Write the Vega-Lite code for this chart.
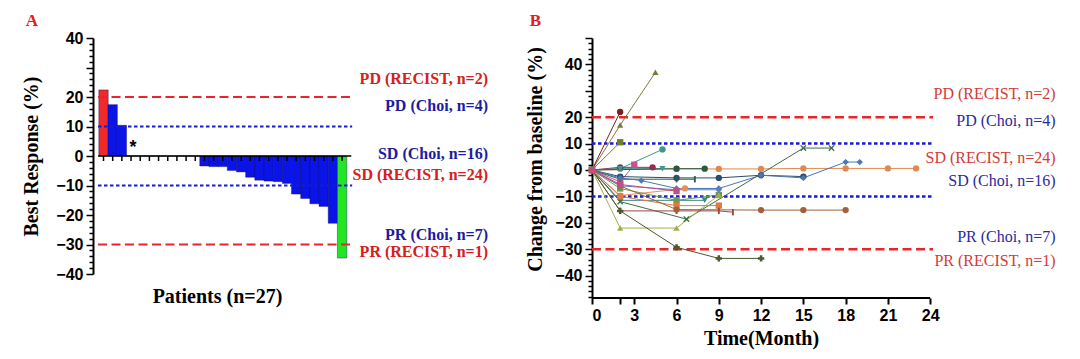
{
  "$schema": "https://vega.github.io/schema/vega-lite/v6.json",
  "background": "white",
  "padding": {"left": 21, "top": 12, "right": 5, "bottom": 5},
  "spacing": 32,
  "config": {
    "view": {"stroke": null},
    "axis": {
      "grid": false,
      "domainColor": "black", "domainWidth": 2,
      "tickColor": "black", "tickWidth": 1.5,
      "labelColor": "black", "labelFont": "Liberation Sans", "labelFontWeight": "bold", "labelFontSize": 16,
      "titleColor": "black", "titleFont": "Liberation Serif", "titleFontWeight": "bold", "titleFontSize": 20
    }
  },
  "datasets": {
    "wf": [
      {"pt": 1, "v": 22.4, "g": "RECIST_PD"},
      {"pt": 2, "v": 17.4, "g": "Choi"},
      {"pt": 3, "v": 10.4, "g": "Choi"},
      {"pt": 4, "v": 0, "g": "Choi"},
      {"pt": 5, "v": 0, "g": "Choi"},
      {"pt": 6, "v": 0, "g": "Choi"},
      {"pt": 7, "v": 0, "g": "Choi"},
      {"pt": 8, "v": 0, "g": "Choi"},
      {"pt": 9, "v": 0, "g": "Choi"},
      {"pt": 10, "v": 0, "g": "Choi"},
      {"pt": 11, "v": 0, "g": "Choi"},
      {"pt": 12, "v": -3.4, "g": "Choi"},
      {"pt": 13, "v": -3.6, "g": "Choi"},
      {"pt": 14, "v": -3.6, "g": "Choi"},
      {"pt": 15, "v": -4.9, "g": "Choi"},
      {"pt": 16, "v": -5.4, "g": "Choi"},
      {"pt": 17, "v": -7.2, "g": "Choi"},
      {"pt": 18, "v": -8.2, "g": "Choi"},
      {"pt": 19, "v": -8.5, "g": "Choi"},
      {"pt": 20, "v": -8.7, "g": "Choi"},
      {"pt": 21, "v": -9.3, "g": "Choi"},
      {"pt": 22, "v": -12.9, "g": "Choi"},
      {"pt": 23, "v": -14.4, "g": "Choi"},
      {"pt": 24, "v": -16.2, "g": "Choi"},
      {"pt": 25, "v": -17.1, "g": "Choi"},
      {"pt": 26, "v": -22.8, "g": "Choi"},
      {"pt": 27, "v": -34.6, "g": "RECIST_PR"}
    ],
    "refs": [
      {"v": 20, "type": "RECIST"},
      {"v": -30, "type": "RECIST"},
      {"v": 10, "type": "Choi"},
      {"v": -10, "type": "Choi"}
    ],
    "labA": [
      {"t": "PD (RECIST, n=2)", "v": 26.2, "type": "RECIST"},
      {"t": "PD (Choi, n=4)", "v": 17, "type": "Choi"},
      {"t": "SD (Choi, n=16)", "v": 0.6, "type": "Choi"},
      {"t": "SD (RECIST, n=24)", "v": -6.5, "type": "RECIST"},
      {"t": "PR (Choi, n=7)", "v": -26.9, "type": "Choi"},
      {"t": "PR (RECIST, n=1)", "v": -32.7, "type": "RECIST"}
    ],
    "labB": [
      {"t": "PD (RECIST, n=2)", "v": 28.8, "type": "RECIST"},
      {"t": "PD (Choi, n=4)", "v": 18.7, "type": "Choi"},
      {"t": "SD (RECIST, n=24)", "v": 4.5, "type": "RECIST"},
      {"t": "SD (Choi, n=16)", "v": -4.1, "type": "Choi"},
      {"t": "PR (Choi, n=7)", "v": -25.5, "type": "Choi"},
      {"t": "PR (RECIST, n=1)", "v": -34.4, "type": "RECIST"}
    ],
    "star": [{"pt": 4, "v": 2.6, "s": "*"}],
    "traj": [
      {"p": "p01", "m": 0, "v": 0}, {"p": "p01", "m": 2, "v": 17}, {"p": "p01", "m": 4.5, "v": 37},
      {"p": "p02", "m": 0, "v": 0}, {"p": "p02", "m": 2, "v": 22},
      {"p": "p03", "m": 0, "v": 0}, {"p": "p03", "m": 2, "v": 10.5},
      {"p": "p04", "m": 0, "v": 0}, {"p": "p04", "m": 2, "v": 0.5}, {"p": "p04", "m": 5, "v": 7.8},
      {"p": "p05", "m": 0, "v": 0}, {"p": "p05", "m": 2, "v": -4.5}, {"p": "p05", "m": 3, "v": 2},
      {"p": "p06", "m": 0, "v": 0}, {"p": "p06", "m": 2, "v": 1}, {"p": "p06", "m": 4.3, "v": 1},
      {"p": "p07", "m": 0, "v": 0}, {"p": "p07", "m": 2, "v": 0.5}, {"p": "p07", "m": 5, "v": 0.5},
      {"p": "p08", "m": 0, "v": 0}, {"p": "p08", "m": 6, "v": 0.4}, {"p": "p08", "m": 9, "v": 0.4}, {"p": "p08", "m": 12, "v": 0.4}, {"p": "p08", "m": 15, "v": 0.6}, {"p": "p08", "m": 18, "v": 0.6}, {"p": "p08", "m": 21, "v": 0.6}, {"p": "p08", "m": 23, "v": 0.6},
      {"p": "p09", "m": 0, "v": 0}, {"p": "p09", "m": 6, "v": 0.5}, {"p": "p09", "m": 8, "v": 0.5},
      {"p": "p10", "m": 0, "v": 0}, {"p": "p10", "m": 2, "v": -2.5}, {"p": "p10", "m": 6, "v": -3}, {"p": "p10", "m": 9, "v": -3}, {"p": "p10", "m": 12, "v": -2}, {"p": "p10", "m": 15, "v": -2.5},
      {"p": "p11", "m": 0, "v": 0}, {"p": "p11", "m": 2, "v": -3.5}, {"p": "p11", "m": 6, "v": -3.5}, {"p": "p11", "m": 7.3, "v": -3.5},
      {"p": "p12", "m": 0, "v": 0}, {"p": "p12", "m": 2, "v": -3}, {"p": "p12", "m": 3.5, "v": -4}, {"p": "p12", "m": 6, "v": -7}, {"p": "p12", "m": 9, "v": -7}, {"p": "p12", "m": 12, "v": -2}, {"p": "p12", "m": 15, "v": -3}, {"p": "p12", "m": 18, "v": 3}, {"p": "p12", "m": 19, "v": 3},
      {"p": "p13", "m": 0, "v": 0}, {"p": "p13", "m": 2, "v": -9.7}, {"p": "p13", "m": 6.6, "v": -7},
      {"p": "p14", "m": 0, "v": 0}, {"p": "p14", "m": 2, "v": -11.5}, {"p": "p14", "m": 8, "v": -11.5},
      {"p": "p15", "m": 0, "v": 0}, {"p": "p15", "m": 2, "v": -7}, {"p": "p15", "m": 6, "v": -11.5}, {"p": "p15", "m": 9, "v": -9.5},
      {"p": "p16", "m": 0, "v": 0}, {"p": "p16", "m": 2, "v": -12}, {"p": "p16", "m": 6.7, "v": -18.6}, {"p": "p16", "m": 15, "v": 8.3}, {"p": "p16", "m": 17, "v": 8.3},
      {"p": "p17", "m": 0, "v": 0}, {"p": "p17", "m": 2, "v": -22}, {"p": "p17", "m": 6, "v": -22}, {"p": "p17", "m": 9, "v": -9.5},
      {"p": "p18", "m": 0, "v": 0}, {"p": "p18", "m": 2, "v": -10}, {"p": "p18", "m": 6, "v": -13.5}, {"p": "p18", "m": 9, "v": -13.5},
      {"p": "p19", "m": 0, "v": 0}, {"p": "p19", "m": 2, "v": -15.5}, {"p": "p19", "m": 6, "v": -15.5}, {"p": "p19", "m": 9, "v": -15.5}, {"p": "p19", "m": 10, "v": -16},
      {"p": "p20", "m": 0, "v": 0}, {"p": "p20", "m": 2, "v": -15.5}, {"p": "p20", "m": 6, "v": -29.3}, {"p": "p20", "m": 9, "v": -33.5}, {"p": "p20", "m": 12, "v": -33.5},
      {"p": "p21", "m": 0, "v": 0}, {"p": "p21", "m": 2, "v": -6}, {"p": "p21", "m": 6, "v": -15}, {"p": "p21", "m": 12, "v": -15.2}, {"p": "p21", "m": 15, "v": -15.2}, {"p": "p21", "m": 18, "v": -15.2},
      {"p": "p22", "m": 0, "v": 0}, {"p": "p22", "m": 2, "v": -6}, {"p": "p22", "m": 6, "v": -7.5}, {"p": "p22", "m": 9, "v": -7.5},
      {"p": "p23", "m": 0, "v": 0}, {"p": "p23", "m": 2, "v": -5.5}, {"p": "p23", "m": 6, "v": -8}
    ]
  },
  "hconcat": [
    {
      "title": {"text": "A", "anchor": "start", "frame": "bounds", "font": "Liberation Serif", "fontSize": 17, "fontWeight": "bold", "color": "#e02020", "dx": 4, "offset": 0},
      "width": 400,
      "height": 236,
      "layer": [
        {
          "data": {"name": "wf"},
          "mark": {"type": "bar", "width": 9.4, "stroke": "#101060", "strokeWidth": 0.4},
          "encoding": {
            "x": {"field": "pt", "type": "quantitative", "scale": {"domain": [0.4, 42.9], "nice": false, "zero": false},
              "axis": {"title": "Patients (n=27)", "domain": false, "ticks": false, "labels": false, "titleX": 124, "titlePadding": 12}},
            "y": {"field": "v", "type": "quantitative", "scale": {"domain": [-40, 40], "nice": false, "zero": false},
              "axis": {"title": "Best Response (%)", "titlePadding": 14, "labelPadding": 3, "labelOverlap": false,
                "tickSize": {"condition": {"test": "datum.value % 10 === 0", "value": 7}, "value": 4},
                "values": [-40,-38,-36,-34,-32,-30,-28,-26,-24,-22,-20,-18,-16,-14,-12,-10,-8,-6,-4,-2,0,2,4,6,8,10,12,14,16,18,20,22,24,26,28,30,32,34,36,38,40],
                "labelExpr": "(datum.value % 10 === 0 && datum.value !== 30) ? datum.label : ''"}},
            "color": {"field": "g", "type": "nominal", "scale": {"domain": ["RECIST_PD", "Choi", "RECIST_PR"], "range": ["#f02a2a", "#0a14e6", "#22e622"]}, "legend": null}
          }
        },
        {
          "data": {"name": "star"},
          "mark": {"type": "rule", "strokeWidth": 1.5, "color": "black"},
          "encoding": {
            "x": {"datum": 0.4, "type": "quantitative", "scale": {"domain": [0.4, 42.9], "nice": false, "zero": false},
              "axis": {"title": "Patients (n=27)", "domain": false, "ticks": false, "labels": false, "titleX": 124, "titlePadding": 12}},
            "x2": {"datum": 28.0},
            "y": {"datum": 0, "type": "quantitative", "scale": {"domain": [-40, 40], "nice": false, "zero": false},
              "axis": {"title": "Best Response (%)", "titlePadding": 14, "labelPadding": 3, "labelOverlap": false,
                "tickSize": {"condition": {"test": "datum.value % 10 === 0", "value": 7}, "value": 4},
                "values": [-40,-38,-36,-34,-32,-30,-28,-26,-24,-22,-20,-18,-16,-14,-12,-10,-8,-6,-4,-2,0,2,4,6,8,10,12,14,16,18,20,22,24,26,28,30,32,34,36,38,40],
                "labelExpr": "(datum.value % 10 === 0 && datum.value !== 30) ? datum.label : ''"}}
          }
        },
        {
          "data": {"name": "wf"},
          "mark": {"type": "rule", "strokeWidth": 1.5, "color": "black"},
          "encoding": {
            "x": {"field": "pt", "type": "quantitative", "scale": {"domain": [0.4, 42.9], "nice": false, "zero": false},
              "axis": {"title": "Patients (n=27)", "domain": false, "ticks": false, "labels": false, "titleX": 124, "titlePadding": 12}},
            "y": {"datum": 0, "type": "quantitative", "scale": {"domain": [-40, 40], "nice": false, "zero": false},
              "axis": {"title": "Best Response (%)", "titlePadding": 14, "labelPadding": 3, "labelOverlap": false,
                "tickSize": {"condition": {"test": "datum.value % 10 === 0", "value": 7}, "value": 4},
                "values": [-40,-38,-36,-34,-32,-30,-28,-26,-24,-22,-20,-18,-16,-14,-12,-10,-8,-6,-4,-2,0,2,4,6,8,10,12,14,16,18,20,22,24,26,28,30,32,34,36,38,40],
                "labelExpr": "(datum.value % 10 === 0 && datum.value !== 30) ? datum.label : ''"}},
            "y2": {"datum": -1.7}
          }
        },
        {
          "data": {"name": "refs"},
          "mark": {"type": "rule", "strokeWidth": 2},
          "encoding": {
            "x": {"datum": 0.4, "type": "quantitative", "scale": {"domain": [0.4, 42.9], "nice": false, "zero": false},
              "axis": {"title": "Patients (n=27)", "domain": false, "ticks": false, "labels": false, "titleX": 124, "titlePadding": 12}},
            "x2": {"datum": 28.1},
            "y": {"field": "v", "type": "quantitative", "scale": {"domain": [-40, 40], "nice": false, "zero": false},
              "axis": {"title": "Best Response (%)", "titlePadding": 14, "labelPadding": 3, "labelOverlap": false,
                "tickSize": {"condition": {"test": "datum.value % 10 === 0", "value": 7}, "value": 4},
                "values": [-40,-38,-36,-34,-32,-30,-28,-26,-24,-22,-20,-18,-16,-14,-12,-10,-8,-6,-4,-2,0,2,4,6,8,10,12,14,16,18,20,22,24,26,28,30,32,34,36,38,40],
                "labelExpr": "(datum.value % 10 === 0 && datum.value !== 30) ? datum.label : ''"}},
            "color": {"field": "type", "type": "nominal", "scale": {"domain": ["RECIST", "Choi"], "range": ["#e8262a", "#1a1ad0"]}, "legend": null},
            "strokeDash": {"field": "type", "type": "nominal", "scale": {"domain": ["RECIST", "Choi"], "range": [[9, 4.5], [3.5, 2.5]]}, "legend": null}
          }
        },
        {
          "data": {"name": "labA"},
          "mark": {"type": "text", "align": "right", "baseline": "middle", "font": "Liberation Serif", "fontWeight": "bold", "fontSize": 16},
          "encoding": {
            "x": {"datum": 42.9, "type": "quantitative", "scale": {"domain": [0.4, 42.9], "nice": false, "zero": false},
              "axis": {"title": "Patients (n=27)", "domain": false, "ticks": false, "labels": false, "titleX": 124, "titlePadding": 12}},
            "y": {"field": "v", "type": "quantitative", "scale": {"domain": [-40, 40], "nice": false, "zero": false},
              "axis": {"title": "Best Response (%)", "titlePadding": 14, "labelPadding": 3, "labelOverlap": false,
                "tickSize": {"condition": {"test": "datum.value % 10 === 0", "value": 7}, "value": 4},
                "values": [-40,-38,-36,-34,-32,-30,-28,-26,-24,-22,-20,-18,-16,-14,-12,-10,-8,-6,-4,-2,0,2,4,6,8,10,12,14,16,18,20,22,24,26,28,30,32,34,36,38,40],
                "labelExpr": "(datum.value % 10 === 0 && datum.value !== 30) ? datum.label : ''"}},
            "text": {"field": "t"},
            "color": {"field": "type", "type": "nominal", "scale": {"domain": ["RECIST", "Choi"], "range": ["#d42020", "#1c1ca0"]}, "legend": null}
          }
        },
        {
          "data": {"name": "star"},
          "mark": {"type": "text", "align": "center", "baseline": "middle", "font": "Liberation Sans", "fontWeight": "bold", "fontSize": 18, "dx": 2, "color": "black"},
          "encoding": {
            "x": {"field": "pt", "type": "quantitative", "scale": {"domain": [0.4, 42.9], "nice": false, "zero": false},
              "axis": {"title": "Patients (n=27)", "domain": false, "ticks": false, "labels": false, "titleX": 124, "titlePadding": 12}},
            "y": {"field": "v", "type": "quantitative", "scale": {"domain": [-40, 40], "nice": false, "zero": false},
              "axis": {"title": "Best Response (%)", "titlePadding": 14, "labelPadding": 3, "labelOverlap": false,
                "tickSize": {"condition": {"test": "datum.value % 10 === 0", "value": 7}, "value": 4},
                "values": [-40,-38,-36,-34,-32,-30,-28,-26,-24,-22,-20,-18,-16,-14,-12,-10,-8,-6,-4,-2,0,2,4,6,8,10,12,14,16,18,20,22,24,26,28,30,32,34,36,38,40],
                "labelExpr": "(datum.value % 10 === 0 && datum.value !== 30) ? datum.label : ''"}},
            "text": {"field": "s"}
          }
        }
      ],
      "resolve": {"scale": {"color": "independent", "strokeDash": "independent"}}
    },
    {
      "title": {"text": "B", "anchor": "start", "frame": "bounds", "font": "Liberation Serif", "fontSize": 17, "fontWeight": "bold", "color": "#e02020", "dx": 4, "offset": 0},
      "width": 465,
      "height": 260,
      "layer": [
        {
          "data": {"name": "refs"},
          "mark": {"type": "rule", "strokeWidth": 2.5},
          "encoding": {
            "x": {"datum": 0, "type": "quantitative", "scale": {"domain": [0, 33], "nice": false, "zero": false},
              "axis": {"title": "Time(Month)", "domain": false, "tickSize": 6, "tickWidth": 2, "labelPadding": 3, "titleX": 169, "titlePadding": 5, "values": [0, 2, 3, 6, 9, 12, 15, 18, 21, 24], "labelOverlap": false, "labelExpr": "datum.value === 2 ? '' : datum.label"}},
            "x2": {"datum": 24.2},
            "y": {"field": "v", "type": "quantitative", "scale": {"domain": [-48.5, 50], "nice": false, "zero": false},
              "axis": {"title": "Change from baseline (%)", "titlePadding": 9, "labelPadding": 3, "labelOverlap": false, "titleY": 121,
                "tickSize": {"condition": {"test": "datum.value % 10 === 0", "value": 7}, "value": 4},
                "values": [-48,-46,-44,-42,-40,-38,-36,-34,-32,-30,-28,-26,-24,-22,-20,-18,-16,-14,-12,-10,-8,-6,-4,-2,0,2,4,6,8,10,12,14,16,18,20,22,24,26,28,30,32,34,36,38,40,42,44,46,48,50],
                "labelExpr": "(datum.value % 10 === 0 && datum.value !== 30 && datum.value !== 50) ? datum.label : ''"}},
            "color": {"field": "type", "type": "nominal", "scale": {"domain": ["RECIST", "Choi"], "range": ["#e8262a", "#1a1ad0"]}, "legend": null},
            "strokeDash": {"field": "type", "type": "nominal", "scale": {"domain": ["RECIST", "Choi"], "range": [[9, 4.5], [3.5, 2.5]]}, "legend": null}
          }
        },
        {
          "data": {"name": "traj"},
          "mark": {"type": "line", "strokeWidth": 1},
          "encoding": {
            "x": {"field": "m", "type": "quantitative", "scale": {"domain": [0, 33], "nice": false, "zero": false},
              "axis": {"title": "Time(Month)", "domain": false, "tickSize": 6, "tickWidth": 2, "labelPadding": 3, "titleX": 169, "titlePadding": 5, "values": [0, 2, 3, 6, 9, 12, 15, 18, 21, 24], "labelOverlap": false, "labelExpr": "datum.value === 2 ? '' : datum.label"}},
            "y": {"field": "v", "type": "quantitative", "scale": {"domain": [-48.5, 50], "nice": false, "zero": false},
              "axis": {"title": "Change from baseline (%)", "titlePadding": 9, "labelPadding": 3, "labelOverlap": false, "titleY": 121,
                "tickSize": {"condition": {"test": "datum.value % 10 === 0", "value": 7}, "value": 4},
                "values": [-48,-46,-44,-42,-40,-38,-36,-34,-32,-30,-28,-26,-24,-22,-20,-18,-16,-14,-12,-10,-8,-6,-4,-2,0,2,4,6,8,10,12,14,16,18,20,22,24,26,28,30,32,34,36,38,40,42,44,46,48,50],
                "labelExpr": "(datum.value % 10 === 0 && datum.value !== 30 && datum.value !== 50) ? datum.label : ''"}},
            "detail": {"field": "p"},
            "order": {"field": "m"},
            "color": {"field": "p", "type": "nominal", "legend": null,
              "scale": {"domain": ["p01","p02","p03","p04","p05","p06","p07","p08","p09","p10","p11","p12","p13","p14","p15","p16","p17","p18","p19","p20","p21","p22","p23"],
                "range": ["#7d7a3c","#7a1f1f","#6e7f2c","#3e9a80","#d04c96","#8c2f52","#3a9a9a","#e0884e","#2c5a3c","#2a4c6e","#2e5e3e","#4a78b0","#e0905a","#3a8a8a","#6a9a4a","#3f6a4a","#a0b050","#e07a40","#9a4a3a","#4a5a2a","#a0603a","#5a80c0","#c05080"]}}
          }
        },
        {
          "data": {"name": "traj"},
          "mark": {"type": "point", "filled": true, "size": 40, "opacity": 1},
          "encoding": {
            "x": {"field": "m", "type": "quantitative", "scale": {"domain": [0, 33], "nice": false, "zero": false},
              "axis": {"title": "Time(Month)", "domain": false, "tickSize": 6, "tickWidth": 2, "labelPadding": 3, "titleX": 169, "titlePadding": 5, "values": [0, 2, 3, 6, 9, 12, 15, 18, 21, 24], "labelOverlap": false, "labelExpr": "datum.value === 2 ? '' : datum.label"}},
            "y": {"field": "v", "type": "quantitative", "scale": {"domain": [-48.5, 50], "nice": false, "zero": false},
              "axis": {"title": "Change from baseline (%)", "titlePadding": 9, "labelPadding": 3, "labelOverlap": false, "titleY": 121,
                "tickSize": {"condition": {"test": "datum.value % 10 === 0", "value": 7}, "value": 4},
                "values": [-48,-46,-44,-42,-40,-38,-36,-34,-32,-30,-28,-26,-24,-22,-20,-18,-16,-14,-12,-10,-8,-6,-4,-2,0,2,4,6,8,10,12,14,16,18,20,22,24,26,28,30,32,34,36,38,40,42,44,46,48,50],
                "labelExpr": "(datum.value % 10 === 0 && datum.value !== 30 && datum.value !== 50) ? datum.label : ''"}},
            "color": {"field": "p", "type": "nominal", "legend": null,
              "scale": {"domain": ["p01","p02","p03","p04","p05","p06","p07","p08","p09","p10","p11","p12","p13","p14","p15","p16","p17","p18","p19","p20","p21","p22","p23"],
                "range": ["#7d7a3c","#7a1f1f","#6e7f2c","#3e9a80","#d04c96","#8c2f52","#3a9a9a","#e0884e","#2c5a3c","#2a4c6e","#2e5e3e","#4a78b0","#e0905a","#3a8a8a","#6a9a4a","#3f6a4a","#a0b050","#e07a40","#9a4a3a","#4a5a2a","#a0603a","#5a80c0","#c05080"]}},
            "shape": {"field": "p", "type": "nominal", "legend": null,
              "scale": {"domain": ["p01","p02","p03","p04","p05","p06","p07","p08","p09","p10","p11","p12","p13","p14","p15","p16","p17","p18","p19","p20","p21","p22","p23"],
                "range": ["triangle-up","circle","square","circle","square","circle","triangle-down","circle","circle","circle","M-0.3,-1H0.3V1H-0.3Z","diamond","circle","triangle-down","square","M-1,-0.7L-0.7,-1L0,-0.3L0.7,-1L1,-0.7L0.3,0L1,0.7L0.7,1L0,0.3L-0.7,1L-1,0.7L-0.3,0Z","triangle-up","square","M-0.3,-1H0.3V1H-0.3Z","cross","circle","diamond","square"]}}
          }
        },
        {
          "data": {"name": "star"},
          "mark": {"type": "rule", "strokeWidth": 2, "color": "black"},
          "encoding": {
            "x": {"datum": 0, "type": "quantitative", "scale": {"domain": [0, 33], "nice": false, "zero": false},
              "axis": {"title": "Time(Month)", "domain": false, "tickSize": 6, "tickWidth": 2, "labelPadding": 3, "titleX": 169, "titlePadding": 5, "values": [0, 2, 3, 6, 9, 12, 15, 18, 21, 24], "labelOverlap": false, "labelExpr": "datum.value === 2 ? '' : datum.label"}},
            "x2": {"datum": 24},
            "y": {"datum": -48.5, "type": "quantitative", "scale": {"domain": [-48.5, 50], "nice": false, "zero": false},
              "axis": {"title": "Change from baseline (%)", "titlePadding": 9, "labelPadding": 3, "labelOverlap": false, "titleY": 121,
                "tickSize": {"condition": {"test": "datum.value % 10 === 0", "value": 7}, "value": 4},
                "values": [-48,-46,-44,-42,-40,-38,-36,-34,-32,-30,-28,-26,-24,-22,-20,-18,-16,-14,-12,-10,-8,-6,-4,-2,0,2,4,6,8,10,12,14,16,18,20,22,24,26,28,30,32,34,36,38,40,42,44,46,48,50],
                "labelExpr": "(datum.value % 10 === 0 && datum.value !== 30 && datum.value !== 50) ? datum.label : ''"}}
          }
        },
        {
          "data": {"name": "labB"},
          "mark": {"type": "text", "align": "right", "baseline": "middle", "font": "Liberation Serif", "fontSize": 16},
          "encoding": {
            "x": {"datum": 32.9, "type": "quantitative", "scale": {"domain": [0, 33], "nice": false, "zero": false},
              "axis": {"title": "Time(Month)", "domain": false, "tickSize": 6, "tickWidth": 2, "labelPadding": 3, "titleX": 169, "titlePadding": 5, "values": [0, 2, 3, 6, 9, 12, 15, 18, 21, 24], "labelOverlap": false, "labelExpr": "datum.value === 2 ? '' : datum.label"}},
            "y": {"field": "v", "type": "quantitative", "scale": {"domain": [-48.5, 50], "nice": false, "zero": false},
              "axis": {"title": "Change from baseline (%)", "titlePadding": 9, "labelPadding": 3, "labelOverlap": false, "titleY": 121,
                "tickSize": {"condition": {"test": "datum.value % 10 === 0", "value": 7}, "value": 4},
                "values": [-48,-46,-44,-42,-40,-38,-36,-34,-32,-30,-28,-26,-24,-22,-20,-18,-16,-14,-12,-10,-8,-6,-4,-2,0,2,4,6,8,10,12,14,16,18,20,22,24,26,28,30,32,34,36,38,40,42,44,46,48,50],
                "labelExpr": "(datum.value % 10 === 0 && datum.value !== 30 && datum.value !== 50) ? datum.label : ''"}},
            "text": {"field": "t"},
            "color": {"field": "type", "type": "nominal", "scale": {"domain": ["RECIST", "Choi"], "range": ["#d43a3a", "#2a2aa0"]}, "legend": null}
          }
        }
      ],
      "resolve": {"scale": {"color": "independent", "strokeDash": "independent"}}
    }
  ]
}
